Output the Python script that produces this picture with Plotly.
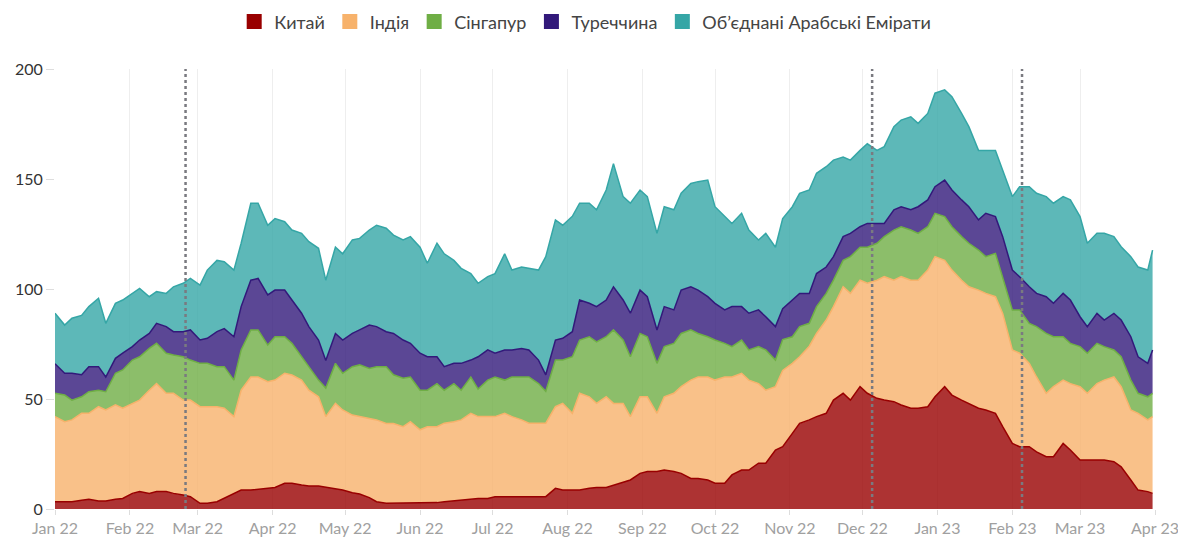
import pandas as pd
import plotly.graph_objects as go

# Readings twice a week (every 7 days from 1 Jan 2022, plus 4 days later), and 31 Mar 2023
weeks = pd.date_range("2022-01-01", periods=65, freq="7D")
dates = sorted(list(weeks) + list(weeks + pd.Timedelta(days=4))) + [pd.Timestamp("2023-03-31")]

china = [3.3, 3.3, 3.3, 4, 4.4, 3.6, 3.6, 4.4, 4.8, 7.1, 7.9, 7.1, 7.9, 7.9, 7.1, 6.4,
         5.6, 2.6, 2.6, 3.3, 4.8, 7.1, 8.6, 8.6, 8.9, 9.4, 9.8, 11.7, 11.7, 10.9, 10.5, 10.5,
         10, 9.4, 8.6, 7.4, 6.8, 5.2, 3.3, 2.6, 2.6, 2.6, 2.6, 2.6, 2.6, 2.9, 3.3, 3.8,
         4.1, 4.4, 4.8, 4.8, 5.6, 5.6, 5.6, 5.6, 5.6, 5.6, 5.6, 9.4, 8.6, 8.6, 8.6, 9.4,
         9.8, 9.8, 10.9, 12.4, 13.2, 16.2, 17, 17, 17.7, 17, 16.2, 13.9, 13.9, 13.2, 11.7, 11.7,
         15.5, 17.7, 17.7, 20.8, 20.8, 26.8, 28.3, 34.4, 38.9, 40.5, 42, 43.5, 49.5, 52.6, 49.5, 55.6,
         52.6, 50.3, 49.5, 48.8, 47.3, 45.8, 45.8, 46.5, 51, 55.6, 51.8, 49.5, 48, 45.8, 45, 43.5,
         37.4, 29.8, 28.3, 28.3, 26, 23.8, 23.8, 29.8, 26.8, 22.3, 22.3, 22.3, 22.3, 21.5, 19.2, 13.2,
         8.6, 7.9, 7.1]
india = [38.7, 36.4, 37.2, 39.5, 39.1, 42.9, 41.4, 42.9, 41, 40.9, 41.6, 46.9, 49.1, 44.7, 45.5, 43.1,
         43.9, 43.9, 43.9, 43.2, 41, 34.9, 45.4, 51.4, 51.1, 48.5, 48.8, 50, 49.2, 47.7, 43.5, 40.5,
         32, 38.6, 36.4, 35.3, 35.2, 36, 37.2, 36.3, 36.3, 34.8, 37.1, 33.4, 34.8, 34.5, 35.7, 35.9,
         36.4, 39.1, 37.2, 37.2, 36.4, 37.9, 36.4, 34.9, 33.4, 33.4, 33.4, 37.1, 39.4, 34.9, 44, 41.6,
         38.2, 41.2, 37.1, 35.6, 28.8, 34.8, 34, 26.5, 33.3, 35.6, 39.4, 44.7, 46.1, 46.8, 46.9, 48.3,
         44.5, 44, 40.9, 36.2, 33.2, 28.8, 34.7, 31.8, 30.3, 33.5, 37.8, 42.4, 42.5, 48.4, 48.5, 48.4,
         50, 53.7, 56.1, 55.2, 58.3, 58.2, 58.2, 62.1, 63.7, 57.4, 56.8, 54.5, 53, 53.7, 53, 53,
         51.5, 42.5, 42.5, 37.9, 34, 28.8, 31.8, 28.8, 30.2, 33.3, 30.3, 34.7, 36.3, 38.5, 36.4, 31.8,
         34.9, 32.6, 34.9]
singapore = [10.6, 12.1, 9, 7.5, 9.8, 7.5, 8.3, 14.4, 17.4, 19.7, 19.7, 19, 18.3, 18.2, 17.4, 19.7,
             18.2, 19.7, 19.7, 18.2, 18.9, 16.6, 18.3, 21.4, 21.4, 16.6, 19.7, 16.6, 14.4, 10.6, 10.7, 7.6,
             13, 18.2, 16.7, 22, 23.5, 22.7, 24.2, 25.8, 22.1, 22, 20.3, 18, 16.6, 19.6, 15, 17.3,
             13.5, 16.5, 12.5, 16.6, 18, 15.1, 18, 19.5, 21, 18, 14.5, 21.2, 19.7, 25.7, 24.2, 27.3,
             28, 27.3, 33.4, 28.8, 27.2, 28.8, 27.3, 22.7, 22.8, 22.7, 24.2, 22.8, 19.8, 18.3, 18.2, 15.3,
             13.8, 15.1, 13.7, 16.8, 18.3, 12.1, 14, 12.1, 13.7, 10.4, 12.2, 12.1, 12, 12, 16.7, 15,
             16.4, 16.8, 18.2, 22.8, 22.7, 22.8, 21.3, 19.7, 19.7, 19.9, 19.7, 19.8, 19.8, 18.2, 16.7, 19.7,
             16.7, 18.2, 19.7, 18.2, 22.9, 27.2, 22.7, 19.7, 18.3, 18.2, 18.2, 18.3, 15.2, 12.3, 13.6, 13.6,
             9.1, 10.5, 10.6]
turkey = [13.4, 9.9, 12.2, 10, 11.4, 10.7, 6.7, 6.8, 7.6, 6.1, 7.6, 6.8, 9.1, 12.1, 10.6, 11.4,
          13.7, 10.6, 11.4, 15.9, 17.3, 19.7, 19.7, 22.6, 23.4, 22.8, 21.2, 21.2, 19.7, 19.8, 18.2, 18.2,
          12.5, 13.6, 15.1, 15.1, 15.9, 19.7, 18.2, 15.9, 18.8, 17.4, 15.3, 16.8, 15.2, 12.2, 10.7, 9.2,
          12.2, 7.7, 14.7, 13.7, 10.8, 13.7, 12.3, 13, 12.3, 10.7, 7.5, 9.1, 9.9, 11.4, 18.2, 15.2,
          16, 16.7, 19.6, 18.2, 19.8, 19.7, 18.2, 15.2, 18.2, 15.2, 19.7, 19.6, 19.7, 18.2, 16.7, 15.2,
          18.2, 15.2, 16.7, 16.7, 15.1, 15.2, 14, 16.7, 15.1, 13.6, 15, 12, 10.7, 10.8, 10.6, 9.3,
          10.8, 9, 6, 9.2, 9.1, 9.2, 12.1, 12.2, 12.1, 16.6, 16.7, 16.7, 16.6, 13.7, 19.7, 16.7,
          18.2, 18.1, 15.1, 16.6, 15.1, 16.7, 15.2, 19.7, 19.7, 13.6, 12.1, 13.6, 12.1, 16.6, 16.7, 19.7,
          16.6, 15.2, 19.7]
uae = [23, 21.9, 25, 27, 27.3, 31.1, 24.4, 25, 24.2, 24.2, 23.5, 16.7, 14.4, 15.1, 20.4, 22,
       23.4, 25, 31, 32.4, 30.4, 30.3, 28.8, 35, 34.2, 31.7, 32.5, 31.1, 31.8, 36.3, 38.6, 41.7,
       36.5, 39.2, 39.2, 42.5, 41.6, 43.2, 46.1, 47, 44.7, 45.5, 48.5, 48.2, 42.5, 51.6, 51.3, 46.8,
       43.2, 39.3, 33.4, 33.3, 36.2, 43.7, 36.3, 37, 37.1, 40.9, 53.7, 54.6, 51.4, 52.4, 44, 45.5,
       44, 50, 56, 47, 50, 45.5, 45.5, 43.9, 45.4, 45.5, 44, 47, 49.3, 53, 43.9, 42.5,
       37.8, 42.4, 37.8, 31.8, 37.9, 36.1, 41, 42.4, 45.5, 47, 45.6, 45.6, 43.9, 36.2, 33.3, 34.7,
       36.2, 33.2, 34.9, 37.8, 39.4, 42.3, 37.9, 39.3, 42.5, 41, 42.4, 39.3, 36.4, 31.6, 28.6, 30.1,
       30.2, 33.4, 40.9, 45.5, 45.5, 45.5, 45.5, 44, 45.5, 45.5, 37.9, 36.4, 39.4, 34.9, 33.3, 36.4,
       40.8, 42.4, 45.4]

names = ["Китай", "Індія", "Сінгапур", "Туреччина", "Об’єднані Арабські Емірати"]
colors = [(153, 0, 0), (247, 178, 107), (111, 174, 69), (50, 25, 122), (53, 166, 166)]

# Key policy dates (dotted markers)
event_dates = ["2022-02-24", "2022-12-05", "2023-02-05"]

fig = go.Figure()
for name, vals, (r, g, b) in zip(names, [china, india, singapore, turkey, uae], colors):
    fig.add_trace(go.Scatter(
        x=dates, y=vals, name=name, legendgroup=name, showlegend=False,
        mode="lines", stackgroup="one",
        line=dict(color=f"rgb({r},{g},{b})", width=1.5),
        fillcolor=f"rgba({r},{g},{b},0.8)",
    ))
    # square swatch for the legend
    fig.add_trace(go.Scatter(
        x=[None], y=[None], name=name, legendgroup=name, mode="markers",
        marker=dict(symbol="square", size=15, color=f"rgb({r},{g},{b})"),
    ))

for d in event_dates:
    fig.add_shape(type="line", x0=d, x1=d, y0=0, y1=200, xref="x", yref="y",
                  line=dict(color="#7a7a80", width=2.5, dash="dot"))

# the page body adds an 8px margin, so the figure is a little smaller than the window
fig.update_layout(
    width=1178, height=530,
    plot_bgcolor="white", paper_bgcolor="white",
    font=dict(family="Lato, sans-serif", size=16, color="#333"),
    margin=dict(l=47, r=31, t=61, b=29, autoexpand=False),
    showlegend=True,
    legend=dict(
        orientation="h", traceorder="normal",
        x=0.482, xanchor="center", y=1.107, yanchor="middle",
        itemwidth=30, font=dict(size=18, color="#444"),
    ),
    xaxis=dict(
        type="date", range=["2022-01-01", "2023-04-01"],
        dtick="M1", tickformat="%b %y", automargin=False,
        showgrid=True, gridcolor="#eeeeee", gridwidth=1,
        ticks="outside", ticklen=5, tickcolor="#dddddd",
        tickfont=dict(size=16, color="#a0a0a0"),
        zeroline=False, showline=False,
    ),
    yaxis=dict(
        range=[0, 200], tickvals=[0, 50, 100, 150, 200], automargin=False,
        showgrid=False, zeroline=False, showline=False,
        ticks="outside", ticklen=8, tickcolor="#dddddd",
        tickfont=dict(size=16, color="#333"),
    ),
)

fig.write_html("out.html")
